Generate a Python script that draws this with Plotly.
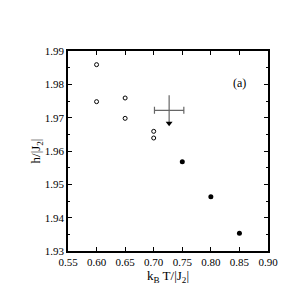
import plotly.graph_objects as go

open_x = [0.60, 0.60, 0.65, 0.65, 0.70, 0.70]
open_y = [1.9859, 1.9748, 1.9759, 1.9698, 1.9659, 1.9639]
filled_x = [0.75, 0.80, 0.85]
filled_y = [1.9568, 1.9463, 1.9353]
cross_x = [0.727]
cross_y = [1.9722]
cross_dx = [0.0257]
cross_up = [0.0045]
cross_down = [0.0036]
arrow_y = [1.9683]

font = "Liberation Serif"
fig = go.Figure()
fig.add_trace(go.Scatter(x=open_x, y=open_y, mode="markers",
    marker=dict(symbol="circle-open", size=4, color="black", line=dict(width=1))))
fig.add_trace(go.Scatter(x=filled_x, y=filled_y, mode="markers",
    marker=dict(symbol="circle", size=5, color="black")))
fig.add_trace(go.Scatter(x=cross_x, y=cross_y, mode="markers",
    marker=dict(size=0.1, color="rgba(0,0,0,0)"),
    error_x=dict(type="data", array=cross_dx, color="#666", thickness=1.2, width=3.5),
    error_y=dict(type="data", symmetric=False, array=cross_up, arrayminus=cross_down,
                 color="#666", thickness=1.2, width=0)))
fig.add_trace(go.Scatter(x=cross_x, y=arrow_y, mode="markers",
    marker=dict(symbol="triangle-down", size=6, color="black")))
fig.add_annotation(x=0.8507, y=1.9803, text="(a)", showarrow=False,
    font=dict(family=font, size=12, color="black"))

axis_common = dict(showline=True, linecolor="black", linewidth=1.5, mirror="ticks",
    ticks="inside", ticklen=4, tickwidth=1, tickcolor="black", showgrid=False,
    zeroline=False, tickfont=dict(family=font, size=11, color="black"))
fig.update_xaxes(range=[0.55, 0.90], dtick=0.05, tickformat=".2f",
    title=dict(text="k<sub>B</sub> T/|J<sub>2</sub>|", font=dict(family=font, size=13, color="black"), standoff=4),
    **axis_common)
fig.update_yaxes(range=[1.93, 1.99], dtick=0.01, tickformat=".2f",
    minor=dict(dtick=0.005, ticks="inside", ticklen=2, tickcolor="black"),
    title=dict(text="h/|J<sub>2</sub>|", font=dict(family=font, size=13, color="black"), standoff=0),
    **axis_common)
fig.update_layout(width=300, height=300, showlegend=False,
    margin=dict(l=60, r=40, t=43, b=57),
    plot_bgcolor="white", paper_bgcolor="white")
fig.write_html("out.html")
